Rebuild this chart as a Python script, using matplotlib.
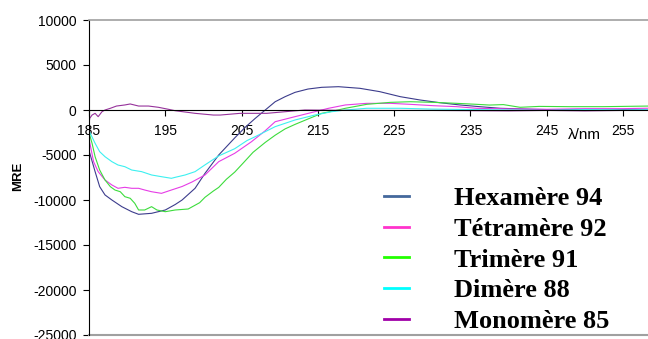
import matplotlib
matplotlib.use('Agg')
import matplotlib.pyplot as plt
from matplotlib.lines import Line2D

plt.rcParams['font.family'] = 'Liberation Sans'
plt.rcParams['axes.unicode_minus'] = False

# CD spectra: wavelength (nm) and MRE
hexa_nm = [185.0, 185.8, 186.4, 187.1, 188.0, 189.3, 190.6, 191.5, 193.2, 195.0,
           196.3, 197.2, 198.9, 200.2, 202.0, 204.1, 205.5, 206.8, 208.1, 209.4,
           210.7, 212.0, 213.7, 215.5, 217.7, 220.5, 223.1, 225.8, 228.4, 231.0,
           233.6, 236.2, 238.9, 243.2, 246.0, 249.0, 252.0, 255.0, 258.5]
hexa_mre = [-4500, -6850, -8520, -9440, -10000, -10740, -11300, -11590, -11480, -11110,
            -10500, -10000, -8700, -7040, -5000, -3100, -1900, -920, 0, 920,
            1480, 1960, 2330, 2520, 2590, 2410, 2040, 1480, 1110, 810,
            560, 370, 190, 80, 30, 60, 0, 40, 20]

tetra_nm = [185.0, 185.6, 186.2, 187.1, 188.0, 188.8, 189.7, 190.6, 191.5, 192.3,
            193.2, 194.5, 195.8, 197.2, 198.5, 200.2, 202.0, 204.1, 206.3, 208.1,
            209.4, 212.0, 214.6, 216.4, 218.6, 221.4, 224.5, 227.1, 230.1, 233.2,
            235.8, 240.0, 245.0, 250.0, 255.0, 258.5]
tetra_mre = [-3200, -5740, -6850, -7780, -8330, -8700, -8590, -8700, -8700, -8890,
             -9080, -9260, -8890, -8500, -8000, -7220, -5740, -4810, -3520, -2300,
             -1300, -740, -190, 190, 560, 740, 740, 630, 480, 370,
             190, 120, 80, 150, 150, 200]

tri_nm = [185.0, 185.4, 185.8, 186.4, 187.1, 187.8, 188.4, 189.1, 189.7, 190.4,
          191.0, 191.5, 192.3, 193.2, 193.9, 195.0, 196.3, 198.0, 199.5, 200.2,
          201.3, 202.0, 203.0, 204.1, 205.2, 206.5, 208.1, 209.4, 210.7, 212.0,
          213.7, 215.5, 217.2, 218.6, 221.4, 224.5, 227.1, 230.1, 233.2, 235.8,
          237.5, 239.3, 241.5, 244.0, 248.0, 252.4, 255.0, 258.5]
tri_mre = [-2500, -3700, -5190, -6670, -7780, -8520, -8890, -9080, -9630, -9810,
           -10370, -11110, -11110, -10740, -11110, -11300, -11110, -11000, -10300, -9700,
           -9000, -8600, -7700, -6900, -5900, -4700, -3600, -2800, -2100, -1600,
           -1000, -370, -80, 190, 630, 850, 920, 850, 740, 630,
           550, 600, 300, 400, 370, 370, 400, 440]

di_nm = [185.0, 185.8, 186.4, 187.1, 188.0, 188.8, 189.7, 190.6, 191.9, 193.2,
         194.5, 195.8, 196.3, 197.6, 198.9, 200.2, 202.0, 204.1, 205.7, 206.8,
         209.4, 212.0, 214.6, 216.8, 218.6, 221.4, 225.8, 230.0, 235.0, 240.0,
         245.0, 250.0, 255.0, 258.5]
di_mre = [-2300, -3700, -4630, -5190, -5740, -6110, -6300, -6670, -6850, -7220,
          -7410, -7590, -7480, -7220, -6850, -6100, -5100, -4300, -3400, -2960,
          -1850, -1110, -560, -190, 0, 190, 190, 100, 50, 0,
          -50, 50, 0, 50]

mono_nm = [185.0, 185.1, 185.4, 185.8, 186.2, 186.7, 187.1, 187.8, 188.6, 189.7,
           190.4, 191.5, 192.8, 194.1, 195.4, 196.3, 198.9, 201.3, 202.2, 204.8,
           208.3, 210.7, 213.3, 220.0, 230.0, 240.0, 245.0, 250.0, 255.0, 258.5]
mono_mre = [-1500, -920, -560, -370, -740, -190, 0, 190, 440, 560,
            670, 440, 440, 300, 80, -80, -370, -560, -560, -370,
            -370, -190, 0, -50, -50, -100, -50, -100, -50, -50]

names = ['Hexamère 94', 'Tétramère 92', 'Trimère 91', 'Dimère 88', 'Monomère 85']
line_colors = ['#3c3c8c', '#e63ce6', '#3cdc3c', '#3cf0f0', '#96329b']
key_colors = ['#44689c', '#ff33cc', '#22ff00', '#00ffff', '#a000a8']

fig = plt.figure(figsize=(6.48, 3.39), dpi=100)
ax = fig.add_axes([89 / 648, 4 / 339, 559 / 648, 315 / 339])

series = [(hexa_nm, hexa_mre), (tetra_nm, tetra_mre), (tri_nm, tri_mre),
          (di_nm, di_mre), (mono_nm, mono_mre)]
for (x, y), c in zip(series, line_colors):
    ax.plot(x, y, color=c, lw=0.8)

ax.set_xlim(185, 185 + 559 / 7.63)
ax.set_ylim(-25000, 10000)
ax.set_xticks(range(185, 260, 10))
ax.set_yticks(range(-25000, 10001, 5000))

ax.spines['bottom'].set_position(('data', 0))
ax.spines['bottom'].set_color('black')
ax.spines['left'].set_color('black')
ax.spines['right'].set_visible(False)
ax.spines['top'].set_color('#a0a0a0')
ax.spines['top'].set_linewidth(1.2)
ax.axhline(-25000, color='#a0a0a0', lw=1.5, clip_on=False)

ax.tick_params(axis='y', direction='out', length=4, pad=5, labelsize=10)
ax.tick_params(axis='x', direction='out', length=4, pad=6, labelsize=10)

fig.text(568 / 648, 1 - 135 / 339, 'λ/nm', fontsize=11, va='center', ha='left')
fig.text(18 / 648, 1 - 176 / 339, 'MRE', rotation=90, fontsize=9.5,
         fontweight='bold', va='center', ha='center')

handles = [Line2D([], [], color=c, lw=2) for c in key_colors]
ax.legend(handles, names, loc='upper left', bbox_to_anchor=(384 / 648, 1 - 187 / 339),
          bbox_transform=fig.transFigure, frameon=False,
          prop={'family': 'Liberation Serif', 'weight': 'bold', 'size': 19},
          handlelength=0.95, handletextpad=1.7, labelspacing=0.27,
          borderpad=0, borderaxespad=0)

fig.savefig('out.png', dpi=100)
